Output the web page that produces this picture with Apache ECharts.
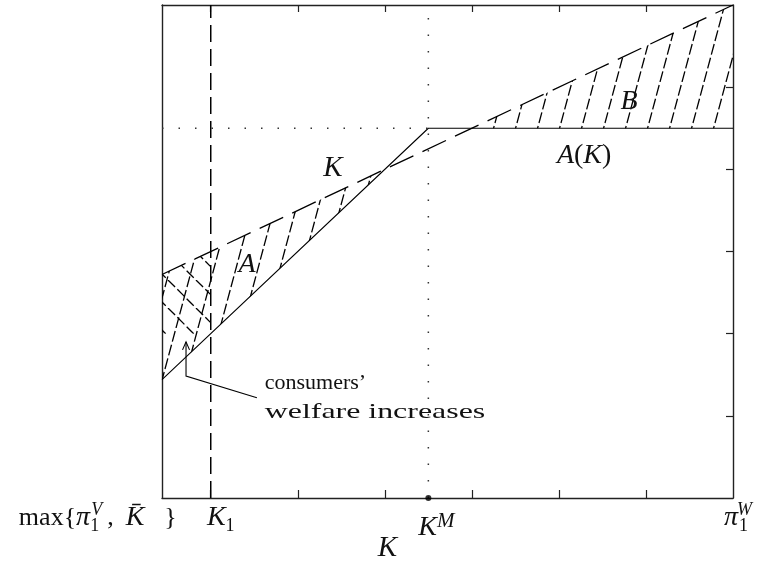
<!DOCTYPE html>
<html><head><meta charset="utf-8">
<script src="https://cdn.jsdelivr.net/npm/echarts@6/dist/echarts.min.js"></script>
<style>html,body{margin:0;padding:0;background:#fff}#c{width:763px;height:562px}</style>
</head><body><div id="c"></div>
<script>
// ---------------- data ----------------
const xMin = 0.44, xMax = 7;
const yMin = 0, yMax = 6;
const xTickValues = [1, 2, 3, 4, 5, 6];
const yTickValues = [1, 2, 3, 4, 5];
const xLabelValues = [0.61, 1, 3.5, 7];
const xTickLabels = [
  '{rl|max{}{il|π}{subl|1}{supl|V}{gapl| }{rl|,}{gap2l| }{il|K̄}{gap3l| }}',
  '{sp2| }{i|K}{sub|1}',
  '{sp3| }{i|K}{supm|M}',
  '{sp4| }{i|π}{subz|1}{supz|W}{gap| }'
];
const xAxisName = 'K';
// solid line: K (45° line) up to K^M, then A(K) flat
const lineK = [[0.44, 1.44], [3.5, 4.5], [7, 4.5]];
// dashed line
const lineDashed = [[0.44, 2.72], [7, 6.0]];
// vertical dashed at K1
const lineK1 = [[1, 0], [1, 6]];
// dotted guides at K^M
const dotVertical = [[3.5, 0], [3.5, 6]];
const dotHorizontal = [[0.44, 4.5], [3.5, 4.5]];
const pointKM = [[3.5, 0]];
// hatched regions
const regionA = [[0.44, 1.44], [3.0, 4.0], [0.44, 2.72]];
const regionB = [[4.0, 4.5], [7, 4.5], [7, 6.0]];
const regionCross = [[0.44, 2.0], [1, 2.0], [1, 3.0], [0.44, 2.72]];
// arrow (from text to crosshatched area)
const arrowPath = [[1.53, 1.22], [0.716, 1.485], [0.716, 1.90]];
// annotations
const annotationTexts = ['K', 'A', 'B', '{i|A}({i|K})', 'consumers’', 'welfare increases'];
const annotationAnchors = [[2.405, 4.01], [1.417, 2.84], [5.805, 4.82], [5.29, 4.17], [1.62, 1.40], [1.62, 1.045]];

// ---------------- styling ----------------
const SERIF = 'Liberation Serif';
const INK = '#111';
const annotationStyles = [
  {size: 29, italic: true, align: 'center'},
  {size: 28, italic: true, align: 'center'},
  {size: 28, italic: true, align: 'center'},
  {size: 28, italic: false, align: 'center', rich: {i: {fontFamily: SERIF, fontStyle: 'italic', fontSize: 28, fill: INK}}},
  {size: 22, italic: false, align: 'left'},
  {size: 22, italic: false, align: 'left', scaleX: 1.45}
];

function hatchTile(w, h, lines, dash) {
  const c = document.createElement('canvas');
  c.width = w; c.height = h;
  const g = c.getContext('2d');
  g.strokeStyle = '#000';
  g.lineWidth = 1.3;
  if (dash) g.setLineDash(dash);
  lines.forEach(l => { g.beginPath(); g.moveTo(l[0], l[1]); g.lineTo(l[2], l[3]); g.stroke(); });
  return c;
}
const slashTile = hatchTile(22, 82, [[0, 82, 22, 0], [-22, 82, 0, 0], [22, 82, 44, 0]], [11, 3.15]);
const backTile = hatchTile(28, 28, [[0, 0, 28, 28], [-28, 0, 0, 28], [28, 0, 56, 28]], [10, 3.2]);
const slashPattern = {image: slashTile, repeat: 'repeat'};
const backPattern = {image: backTile, repeat: 'repeat'};

function regionSeries(points, pattern, z) {
  return {
    type: 'custom', coordinateSystem: 'cartesian2d', silent: true, z: z,
    data: points,
    renderItem(params, api) {
      if (params.dataIndex !== 0) return null;
      return {type: 'polygon', shape: {points: points.map(p => api.coord(p))}, style: {fill: pattern, stroke: null}};
    }
  };
}

const labelRich = {
  i: {fontFamily: SERIF, fontStyle: 'italic', fontSize: 28, lineHeight: 34, color: INK},
  sub: {fontFamily: SERIF, fontSize: 18, lineHeight: 24, verticalAlign: 'bottom', color: INK},
  subz: {fontFamily: SERIF, fontSize: 18, lineHeight: 24, verticalAlign: 'bottom', width: 1, padding: [0, 0, 0, 5], color: INK},
  supz: {fontFamily: SERIF, fontStyle: 'italic', fontSize: 18, lineHeight: 18, verticalAlign: 'top', width: 1, color: INK},
  gap: {width: 7, fontSize: 10},
  supm: {fontFamily: SERIF, fontStyle: 'italic', fontSize: 21, lineHeight: 18, verticalAlign: 'top', padding: [10, 0, 0, 0], color: INK},
  sp2: {width: 20, fontSize: 10},
  sp3: {width: 16, fontSize: 10, lineHeight: 54},
  sp4: {width: 10, fontSize: 10},
  // left-aligned variants for the right-aligned first label
  rl: {fontFamily: SERIF, fontSize: 26, lineHeight: 34, color: INK, align: 'left'},
  il: {fontFamily: SERIF, fontStyle: 'italic', fontSize: 28, lineHeight: 34, color: INK, align: 'left'},
  subl: {fontFamily: SERIF, fontSize: 18, lineHeight: 24, verticalAlign: 'bottom', width: 1, color: INK, align: 'left'},
  supl: {fontFamily: SERIF, fontStyle: 'italic', fontSize: 18, lineHeight: 18, verticalAlign: 'top', width: 1, color: INK, align: 'left'},
  gapl: {width: 15, fontSize: 10, align: 'left'},
  gap2l: {width: 12, fontSize: 10, align: 'left'},
  gap3l: {width: 20, fontSize: 10, align: 'left'}
};

const frame = {show: true, onZero: false, lineStyle: {color: '#222', width: 1.4}};
const tickStyle = {lineStyle: {color: '#222', width: 1.2}};

const chart = echarts.init(document.getElementById('c'), null, {renderer: 'canvas'});
chart.setOption({
  animation: false,
  backgroundColor: '#fff',
  grid: {left: 162, right: 30, top: 5, bottom: 64, containLabel: false, outerBoundsMode: 'none'},
  xAxis: [
    {
      type: 'value', position: 'bottom', min: xMin, max: xMax,
      axisLine: frame,
      axisTick: Object.assign({show: true, inside: true, length: 8, customValues: xTickValues}, tickStyle),
      axisLabel: {
        show: true, margin: 3, customValues: xLabelValues, showMinLabel: true, showMaxLabel: true, hideOverlap: false,
        alignMinLabel: 'right', alignMaxLabel: 'center',
        fontFamily: SERIF, fontSize: 26, lineHeight: 34, color: INK,
        formatter: v => { const k = xLabelValues.findIndex(t => Math.abs(t - v) < 1e-6); return k < 0 ? '' : xTickLabels[k]; },
        rich: labelRich
      },
      splitLine: {show: false},
      name: xAxisName, nameLocation: 'middle', nameGap: 36, nameMoveOverlap: false,
      nameTextStyle: {fontFamily: SERIF, fontStyle: 'italic', fontSize: 29, color: INK, padding: [0, 120, 0, 0]}
    },
    {
      type: 'value', position: 'top', min: xMin, max: xMax,
      axisLine: frame,
      axisTick: Object.assign({show: true, inside: true, length: 7, customValues: xTickValues}, tickStyle),
      axisLabel: {show: false}, splitLine: {show: false}
    }
  ],
  yAxis: [
    {
      type: 'value', position: 'left', min: yMin, max: yMax,
      axisLine: frame, axisTick: {show: false}, axisLabel: {show: false}, splitLine: {show: false}
    },
    {
      type: 'value', position: 'right', min: yMin, max: yMax,
      axisLine: frame,
      axisTick: Object.assign({show: true, inside: true, length: 7, customValues: yTickValues}, tickStyle),
      axisLabel: {show: false}, splitLine: {show: false}
    }
  ],
  series: [
    regionSeries(regionA, slashPattern, 1),
    regionSeries(regionB, slashPattern, 1),
    regionSeries(regionCross, backPattern, 1),
    {type: 'line', data: lineK, symbol: 'none', silent: true, z: 3, lineStyle: {color: '#000', width: 1.1}},
    {type: 'line', data: lineDashed, symbol: 'none', silent: true, z: 3, lineStyle: {color: '#000', width: 1.3, type: [26, 10]}},
    {type: 'line', data: lineK1, symbol: 'none', silent: true, z: 3, lineStyle: {color: '#000', width: 1.5, type: [17, 7]}},
    {type: 'line', data: dotVertical, symbol: 'none', silent: true, z: 3, lineStyle: {color: '#333', width: 1.5, type: [1.5, 15]}},
    {type: 'line', data: dotHorizontal, symbol: 'none', silent: true, z: 3, lineStyle: {color: '#333', width: 1.5, type: [1.5, 15]}},
    {type: 'scatter', data: pointKM, symbol: 'circle', symbolSize: 6, silent: true, z: 6, itemStyle: {color: '#000'}},
    {
      type: 'custom', coordinateSystem: 'cartesian2d', silent: true, z: 4,
      data: arrowPath,
      renderItem(params, api) {
        if (params.dataIndex !== 0) return null;
        const pts = arrowPath.map(p => api.coord(p));
        const tip = pts[pts.length - 1];
        return {type: 'group', children: [
          {type: 'polyline', shape: {points: pts}, style: {stroke: '#000', lineWidth: 1.1, fill: null}},
          {type: 'polyline', shape: {points: [[tip[0] - 3.5, tip[1] + 8], tip, [tip[0] + 3.5, tip[1] + 8]]}, style: {stroke: '#000', lineWidth: 1.1, fill: null}}
        ]};
      }
    },
    {
      type: 'custom', coordinateSystem: 'cartesian2d', silent: true, z: 7, clip: false,
      data: annotationAnchors,
      renderItem(params, api) {
        const i = params.dataIndex;
        const s = annotationStyles[i];
        const p = api.coord([api.value(0), api.value(1)]);
        return {
          type: 'text', x: p[0], y: p[1], scaleX: s.scaleX || 1, scaleY: 1,
          style: {
            text: annotationTexts[i], fill: INK, fontFamily: SERIF, fontSize: s.size,
            fontStyle: s.italic ? 'italic' : 'normal', align: s.align, verticalAlign: 'middle',
            rich: s.rich
          }
        };
      }
    }
  ]
});
</script>
</body></html>
